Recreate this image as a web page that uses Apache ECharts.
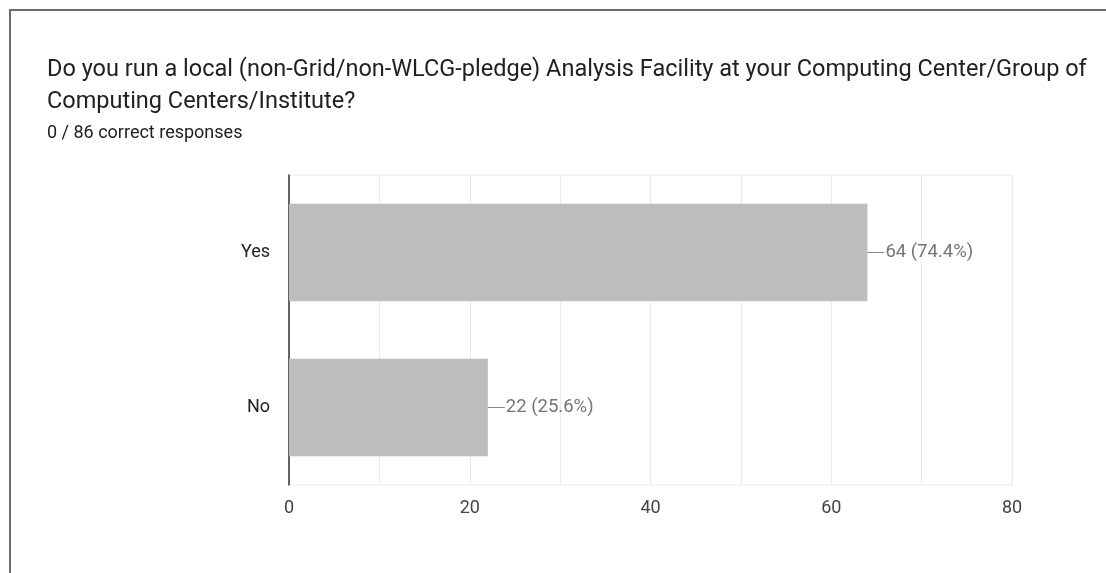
<!DOCTYPE html>
<html>
<head>
<meta charset="utf-8">
<style>
  html, body { margin: 0; padding: 0; background: #fff; }
  #chart { width: 1106px; height: 573px; }
</style>
<script src="https://cdn.jsdelivr.net/npm/echarts@6/dist/echarts.min.js"></script>
</head>
<body>
<div id="chart"></div>
<script>
// Survey question, answer options and response counts
const questionText = 'Do you run a local (non-Grid/non-WLCG-pledge) Analysis Facility at your Computing Center/Group of\nComputing Centers/Institute?';
const responseNote = '0 / 86 correct responses';
const answers = ['Yes', 'No'];
const counts = [64, 22];
const axisTicks = [0, 20, 40, 60, 80];

const total = counts.reduce((a, b) => a + b, 0);
const font = 'Roboto, "Noto Sans", Arial, sans-serif';

const chart = echarts.init(document.getElementById('chart'), null, { renderer: 'canvas' });

chart.setOption({
  animation: false,
  backgroundColor: '#ffffff',
  textStyle: { fontFamily: font },
  title: [
    {
      text: questionText,
      left: 47, top: 54, padding: 0,
      textStyle: { fontFamily: font, fontSize: 23.5, fontWeight: 'normal', color: '#202124', lineHeight: 32 }
    },
    {
      text: responseNote,
      left: 47, top: 122, padding: 0,
      textStyle: { fontFamily: font, fontSize: 18, fontWeight: 'normal', color: '#202124', lineHeight: 22 }
    }
  ],
  graphic: [
    {
      type: 'polyline',
      shape: { points: [[10, 573], [10, 10], [1106, 10]] },
      style: { stroke: '#6b6b6b', lineWidth: 2, fill: null }
    }
  ],
  grid: {
    left: 289, right: 94, top: 175, bottom: 88, containLabel: false,
    show: true, borderColor: '#ebebeb', borderWidth: 1
  },
  xAxis: {
    type: 'value',
    min: axisTicks[0],
    max: axisTicks[axisTicks.length - 1],
    interval: 10,
    axisLine: { show: false },
    axisTick: { show: false },
    axisLabel: {
      fontSize: 18, color: '#444', margin: 14, fontFamily: font,
      formatter: v => (axisTicks.includes(v) ? String(v) : '')
    },
    splitLine: { lineStyle: { color: '#ebebeb', width: 1 } }
  },
  yAxis: {
    type: 'category',
    data: answers,
    inverse: true,
    axisLine: { show: true, lineStyle: { color: '#333', width: 1.5 } },
    axisTick: { show: false },
    axisLabel: { fontSize: 18, color: '#222', margin: 19, fontFamily: font },
    splitLine: { show: false }
  },
  series: [
    {
      type: 'bar',
      data: counts,
      barCategoryGap: '37%',
      itemStyle: { color: '#bdbdbd' },
      label: {
        show: true,
        position: 'right',
        distance: 0,
        formatter: p => '{ln| }{v|' + p.value + ' (' + (p.value / total * 100).toFixed(1) + '%)}',
        rich: {
          ln: { width: 17, height: 1, backgroundColor: '#8a8a8a' },
          v: { fontSize: 18.5, color: '#757575', fontFamily: font, padding: [0, 0, 0, 1] }
        }
      }
    }
  ]
});
</script>
</body>
</html>
